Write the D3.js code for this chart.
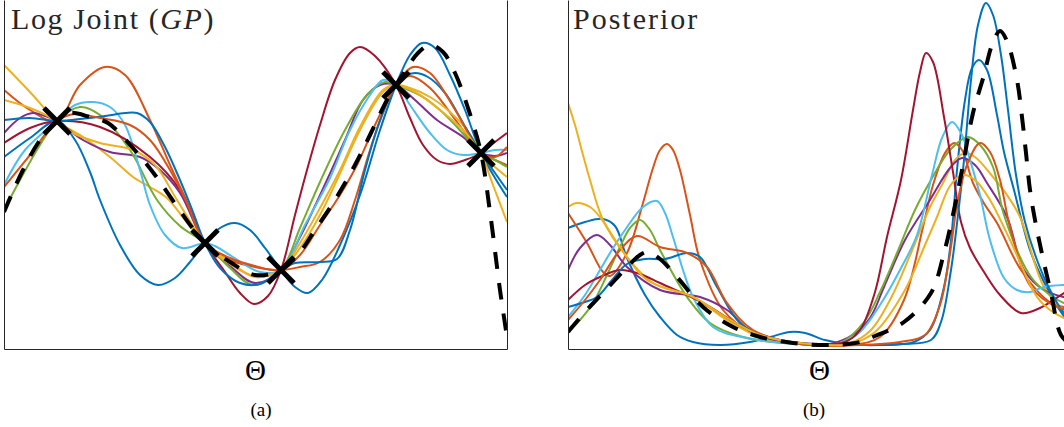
<!DOCTYPE html>
<html><head><meta charset="utf-8">
<script src="https://cdn.jsdelivr.net/npm/d3@7"></script>
<style>html,body{margin:0;padding:0;background:#fff;}svg{display:block;}</style>
</head><body>
<svg id="chart" width="1064" height="427"></svg>
<script>
// ---------------- DATA ----------------
const seriesColors = ["#0072BD","#D95319","#EDB120","#7E2F8E","#77AC30","#4DBEEE","#A2142F","#0072BD","#D95319","#EDB120"];
const panelTitles = ["Log Joint (", "GP", ")"];
const panelTitleB = "Posterior";
const xLabel = "Θ";
const captions = ["(a)", "(b)"];

// observed points (X markers) in panel (a)
const observations = [[5.3,2.28],[20.1,1.06],[27.7,0.79],[39.2,2.64],[47.7,1.96]];

// panel (a): true log joint (dashed)
const truthA = [[0,1.37],[1.8,1.77],[3.6,2.09],[5.3,2.28],[6.6,2.36],[8.6,2.32],[10.4,2.26],[12.8,2.02],[15.1,1.74],[17.2,1.44],[20.1,1.06],[22.6,0.87],[25.1,0.74],[27.7,0.79],[29.6,0.97],[31.1,1.19],[33.1,1.49],[35.1,1.84],[36.6,2.14],[38.3,2.49],[39.2,2.64],[40.3,2.81],[41.4,2.96],[42.6,3.04],[43.9,2.97],[45.1,2.76],[46.4,2.41],[47.7,1.96],[48.6,1.37],[49.6,0.59],[50.3,0.12]];

// panel (a): GP samples
const gpBlue1 = [[0,1.92],[2.6,2.11],[5.3,2.28],[7.1,2.09],[8.6,1.77],[9.6,1.49],[11.6,1.04],[13.6,0.74],[15.4,0.64],[17.1,0.71],[18.6,0.87],[20.1,1.06],[21.6,1.21],[23.1,1.26],[24.6,1.19],[26.1,1.01],[27.7,0.79],[29.1,0.62],[30.4,0.56],[31.8,0.69],[33.6,1.04],[35.6,1.54],[37.6,2.19],[39.2,2.64],[40.6,2.94],[41.8,3.06],[43.1,3.01],[44.6,2.74],[46.1,2.39],[47.7,1.96],[49.1,1.71],[50.3,1.52]];
const gpOrange1 = [[0,2.59],[2.6,2.39],[5.3,2.28],[7.6,2.64],[10.1,2.82],[12.1,2.74],[14.6,2.29],[16.6,1.84],[18.3,1.47],[20.1,1.06],[22.6,0.89],[25.6,0.81],[27.7,0.79],[29.6,0.82],[31.6,0.87],[33.6,1.09],[35.1,1.49],[36.6,1.99],[38.1,2.41],[39.2,2.64],[40.6,2.73],[42.6,2.61],[45.3,2.27],[47.7,1.96],[49.1,1.89],[50.3,1.84]];
const gpYellow1 = [[0,2.84],[2.6,2.57],[5.3,2.28],[7.9,2.12],[10.6,1.92],[12.9,1.72],[14.6,1.62],[16.3,1.51],[18.1,1.29],[20.1,1.06],[22.6,0.87],[25.1,0.72],[27.7,0.79],[29.6,1.01],[31.6,1.34],[33.3,1.69],[35.6,2.19],[37.9,2.57],[39.2,2.64],[40.6,2.61],[42.6,2.52],[44.6,2.37],[46.3,2.19],[47.7,1.96],[48.9,1.64],[50.3,1.27]];
const gpPurple = [[0,2.16],[1.6,2.31],[2.9,2.36],[4.1,2.33],[5.3,2.28],[7.9,2.09],[10.6,1.97],[13.6,1.92],[15.6,1.79],[17.6,1.56],[20.1,1.06],[22.6,0.83],[25.1,0.66],[27.7,0.79],[29.6,1.12],[32.3,1.69],[34.1,2.09],[35.9,2.49],[37.6,2.64],[39.2,2.64],[41.1,2.49],[43.3,2.29],[45.9,2.12],[47.7,1.96],[49.1,1.93],[50.3,1.96]];
const gpGreen = [[0,1.39],[1.6,1.69],[3.6,2.04],[5.3,2.28],[7.6,2.42],[9.6,2.34],[12.6,1.99],[15.3,1.49],[17.6,1.23],[20.1,1.06],[22.6,0.81],[24.9,0.64],[27.7,0.79],[29.6,1.21],[31.6,1.67],[34.1,2.19],[36.3,2.54],[38.1,2.67],[39.2,2.64],[41.9,2.52],[43.6,2.39],[45.3,2.22],[47.7,1.96],[49.1,1.89],[50.3,1.82]];
const gpLightBlue = [[0,1.64],[2.1,1.99],[5.3,2.28],[7.1,2.44],[8.9,2.47],[10.6,2.42],[12.1,2.24],[13.6,1.79],[14.6,1.44],[16.1,1.14],[17.8,1.01],[20.1,1.06],[21.1,1.03],[22.9,0.92],[25.6,0.77],[27.7,0.79],[30.1,1.24],[32.6,1.71],[34.6,2.19],[36.6,2.54],[37.9,2.69],[39.2,2.64],[40.6,2.44],[42.6,2.16],[44.3,1.99],[45.9,1.94],[47.7,1.96],[49.1,1.99],[50.3,1.99]];
const gpDarkRed = [[0,2.06],[2.6,2.21],[5.3,2.28],[9.6,2.22],[14.6,1.92],[17.6,1.59],[20.1,1.06],[22.1,0.77],[23.6,0.56],[25.0,0.45],[26.4,0.53],[27.7,0.79],[29.1,1.34],[30.3,1.79],[31.6,2.24],[33.1,2.69],[34.6,2.96],[35.6,3.02],[37.1,2.93],[39.2,2.64],[40.6,2.31],[41.9,2.04],[43.3,1.89],[44.6,1.85],[46.1,1.89],[47.7,1.96],[49.1,2.07],[50.3,2.16]];
const gpBlue2 = [[0,2.29],[2.6,2.31],[5.3,2.28],[7.6,2.30],[10.1,2.33],[12.1,2.36],[13.3,2.36],[14.6,2.27],[16.1,2.02],[17.6,1.69],[18.9,1.37],[20.1,1.06],[21.6,0.81],[23.6,0.66],[25.6,0.65],[27.7,0.79],[29.1,0.86],[31.6,0.87],[33.3,0.90],[34.6,1.19],[36.1,1.79],[37.6,2.29],[39.2,2.64],[40.1,2.73],[41.1,2.76],[42.4,2.72],[44.1,2.56],[45.9,2.26],[47.7,1.96],[49.1,1.76],[50.3,1.59]];
const gpOrange2 = [[0,1.62],[2.6,1.94],[5.3,2.28],[7.1,2.35],[9.6,2.31],[12.6,2.24],[14.6,2.09],[16.6,1.79],[18.3,1.46],[20.1,1.06],[22.6,0.91],[25.1,0.83],[27.7,0.79],[29.6,0.94],[31.6,1.24],[33.6,1.54],[35.3,1.84],[37.1,2.24],[39.2,2.64],[40.9,2.82],[42.6,2.76],[45.3,2.36],[47.7,1.96],[49.1,1.92],[50.3,2.02]];
const gpYellow2 = [[0,2.49],[2.6,2.41],[5.3,2.28],[6.9,2.16],[9.6,2.06],[12.9,1.99],[15.1,1.84],[17.3,1.49],[20.1,1.06],[22.6,0.85],[25.1,0.73],[27.7,0.79],[29.6,1.06],[31.6,1.41],[33.6,1.79],[35.6,2.22],[37.9,2.59],[39.2,2.64],[41.1,2.57],[43.6,2.39],[46.1,2.17],[47.7,1.96],[49.1,1.82],[50.3,1.72]];

// panel (b): true posterior (dashed)
const truthB = [[0,0.17],[1.7,0.37],[3.2,0.53],[4.7,0.69],[5.9,0.82],[7.2,0.94],[8.0,0.97],[9.2,0.90],[10.9,0.72],[13.5,0.42],[16.5,0.22],[19.2,0.12],[22.5,0.06],[26.2,0.04],[29.2,0.07],[30.7,0.13],[33.6,0.27],[36.3,0.56],[37.6,0.96],[38.6,1.39],[39.4,1.79],[40.5,2.36],[41.6,2.74],[42.4,3.04],[43.2,3.18],[43.9,3.08],[44.9,2.69],[45.4,2.32],[45.8,1.96],[46.2,1.59],[46.7,1.29],[47.6,0.86],[48.3,0.56],[49.3,0.14],[50.3,0.04]];

// panel (b): posterior samples
const postBlue1 = [[0,1.21],[1.7,1.27],[3.5,1.30],[4.7,1.23],[5.9,0.91],[7.7,0.54],[9.2,0.32],[10.9,0.14],[12.5,0.07],[15.2,0.04],[18.2,0.07],[20.2,0.12],[22.2,0.17],[23.7,0.16],[25.7,0.09],[27.9,0.05],[31.2,0.04],[34.6,0.07],[36.2,0.19],[37.6,0.62],[38.3,1.09],[38.9,1.79],[39.7,2.49],[40.4,2.81],[41.1,2.89],[41.9,2.79],[42.9,2.34],[43.6,1.97],[44.6,1.59],[46.2,0.99],[47.6,0.67],[49.6,0.33],[50.3,0.27]];
const postOrange1 = [[0,1.36],[1.9,1.06],[3.5,0.77],[4.2,0.73],[5.9,0.96],[7.5,1.46],[8.5,1.81],[9.2,1.99],[9.9,2.05],[10.5,1.99],[11.2,1.79],[12.2,1.34],[13.2,0.89],[15.5,0.39],[18.5,0.16],[23.2,0.05],[28.2,0.04],[31.2,0.12],[33.6,0.49],[35.5,1.22],[36.5,1.64],[37.7,1.96],[38.6,2.06],[39.4,1.99],[40.5,1.66],[41.7,1.44],[42.9,1.26],[45.3,0.79],[48.3,0.46],[49.6,0.42],[50.3,0.41]];
const postYellow1 = [[0,2.46],[0.7,2.24],[1.5,1.94],[2.2,1.69],[3.5,1.29],[5.9,0.92],[8.5,0.66],[12.5,0.52],[15.9,0.29],[19.2,0.12],[23.2,0.05],[28.2,0.06],[30.3,0.19],[32.2,0.49],[34.3,0.96],[36.2,1.42],[37.5,1.66],[38.7,1.89],[39.7,1.96],[40.7,1.92],[42.5,1.72],[43.9,1.54],[45.2,1.32],[47.6,0.62],[49.6,0.39],[50.3,0.36]];
const postPurple = [[0,0.79],[1.2,1.01],[2.9,1.14],[4.2,1.04],[5.9,0.82],[9.2,0.59],[13.2,0.52],[15.9,0.39],[18.5,0.16],[23.2,0.05],[26.2,0.05],[28.6,0.15],[30.2,0.31],[31.6,0.62],[33.7,1.09],[36.2,1.49],[38.2,1.81],[39.4,1.91],[40.7,1.84],[41.9,1.66],[43.9,1.32],[45.6,0.79],[47.6,0.59],[49.6,0.52],[50.3,0.51]];
const postGreen = [[0,0.17],[1.2,0.29],[2.5,0.46],[3.9,0.74],[5.2,1.02],[6.2,1.21],[7.2,1.29],[8.2,1.19],[9.2,0.99],[11.9,0.52],[14.2,0.26],[17.5,0.12],[23.2,0.05],[27.2,0.06],[29.6,0.27],[31.2,0.57],[32.9,0.96],[34.7,1.39],[36.3,1.69],[38.2,1.99],[40.0,2.12],[41.2,2.04],[42.5,1.82],[43.6,1.34],[46.3,0.72],[48.2,0.54],[49.6,0.46],[50.3,0.44]];
const postLightBlue = [[0,0.32],[1.7,0.54],[3.2,0.79],[4.2,0.96],[5.7,1.19],[7.5,1.42],[8.9,1.48],[9.7,1.36],[10.5,1.12],[11.5,0.79],[12.5,0.52],[14.5,0.22],[17.9,0.11],[23.2,0.05],[27.2,0.06],[29.2,0.17],[31.2,0.44],[33.2,0.79],[34.9,1.14],[36.4,1.74],[37.4,2.11],[38.4,2.27],[39.4,2.14],[40.2,1.89],[41.2,1.54],[42.2,1.09],[43.6,0.71],[44.9,0.59],[46.2,0.57],[47.6,0.62],[49.6,0.64],[50.3,0.64]];
const postDarkRed = [[0,0.49],[1.7,0.64],[3.2,0.72],[5.2,0.79],[7.2,0.75],[9.2,0.66],[13.5,0.46],[17.5,0.22],[21.2,0.09],[25.2,0.05],[27.7,0.07],[29.2,0.19],[30.7,0.57],[31.9,1.12],[33.3,1.69],[34.5,2.39],[35.2,2.77],[35.8,2.96],[36.5,2.87],[37.6,2.32],[38.5,1.77],[39.3,1.27],[40.2,1.01],[41.6,0.77],[43.2,0.54],[45.3,0.36],[47.2,0.41],[49.6,0.56],[50.3,0.60]];
const postBlue2 = [[0,0.42],[1.7,0.47],[2.9,0.52],[4.4,0.69],[5.9,0.85],[7.7,0.90],[9.7,0.90],[11.9,0.96],[13.2,0.92],[14.9,0.62],[17.2,0.26],[19.9,0.12],[23.2,0.06],[28.2,0.04],[33.2,0.05],[36.3,0.09],[37.3,0.27],[38.3,0.79],[39.0,1.34],[39.6,1.89],[40.3,2.69],[41.0,3.24],[41.8,3.46],[42.5,3.34],[43.3,2.94],[44.0,2.39],[44.8,1.74],[45.7,1.27],[46.9,0.89],[48.2,0.59],[49.6,0.36],[50.3,0.30]];
const postOrange2 = [[0,0.29],[1.7,0.49],[3.2,0.69],[5.2,0.99],[6.9,1.13],[9.2,1.02],[11.9,0.96],[13.9,0.82],[15.9,0.46],[18.5,0.19],[23.2,0.05],[29.2,0.04],[33.2,0.07],[35.7,0.14],[37.2,0.44],[37.9,0.77],[38.4,1.09],[38.9,1.44],[39.9,1.84],[41.2,2.06],[42.2,1.97],[43.2,1.69],[44.2,1.22],[46.3,0.62],[48.9,0.42],[50.3,0.39]];
const postYellow2 = [[0,1.42],[0.9,1.46],[2.2,1.42],[3.2,1.32],[5.2,1.02],[7.9,0.69],[12.5,0.52],[15.9,0.31],[19.2,0.14],[23.2,0.06],[28.2,0.05],[30.7,0.17],[33.7,0.59],[35.7,1.04],[36.9,1.32],[38.2,1.63],[39.4,1.74],[40.7,1.69],[42.2,1.49],[44.2,1.09],[46.9,0.52],[48.2,0.39],[49.6,0.31],[50.3,0.29]];

const samplesA = [gpBlue1, gpOrange1, gpYellow1, gpPurple, gpGreen, gpLightBlue, gpDarkRed, gpBlue2, gpOrange2, gpYellow2];
const samplesB = [postBlue1, postOrange1, postYellow1, postPurple, postGreen, postLightBlue, postDarkRed, postBlue2, postOrange2, postYellow2];

// ---------------- DRAWING ----------------
const svg = d3.select("#chart");
const ink = "#262626";
const serif = "'Liberation Serif','Times New Roman',serif";

const panels = [
  {x0: 4, x1: 507, samples: samplesA, truth: truthA, obs: observations, id: "a"},
  {x0: 568, x1: 1071, samples: samplesB, truth: truthB, obs: [], id: "b"}
];
const plotTop = 0, plotBottom = 349;

panels.forEach((p, i) => {
  const x = d3.scaleLinear().domain([0, 50.3]).range([p.x0, p.x1]);
  const y = d3.scaleLinear().domain([0, 3.49]).range([plotBottom, plotTop]);
  const g = svg.append("g");

  g.append("clipPath").attr("id", "clip" + p.id)
    .append("rect").attr("x", p.x0).attr("y", -5).attr("width", p.x1 - p.x0).attr("height", plotBottom + 5);

  const line = d3.line().x(d => x(d[0])).y(d => y(d[1])).curve(d3.curveCatmullRom.alpha(0.5));
  const plot = g.append("g").attr("clip-path", `url(#clip${p.id})`);

  plot.selectAll("path.sample").data(p.samples).join("path")
    .attr("class", "sample")
    .attr("d", line)
    .attr("fill", "none")
    .attr("stroke", (d, k) => seriesColors[k])
    .attr("stroke-width", 2)
    .attr("stroke-linejoin", "round");

  plot.append("path").datum(p.truth)
    .attr("d", line)
    .attr("fill", "none")
    .attr("stroke", "#000")
    .attr("stroke-width", 4)
    .attr("stroke-dasharray", "17,14");

  const s = 13;
  plot.selectAll("path.obs").data(p.obs).join("path")
    .attr("class", "obs")
    .attr("d", d => {
      const cx = x(d[0]), cy = y(d[1]);
      return `M${cx - s},${cy - s}L${cx + s},${cy + s}M${cx - s},${cy + s}L${cx + s},${cy - s}`;
    })
    .attr("stroke", "#000")
    .attr("stroke-width", 5);

  // axes (box without ticks)
  g.append("g").attr("transform", `translate(0,${plotBottom})`)
    .call(d3.axisBottom(x).tickValues([]).tickSizeOuter(0));
  g.append("g").attr("transform", `translate(${p.x0},0)`)
    .call(d3.axisLeft(y).tickValues([]).tickSizeOuter(0));
  g.append("g").attr("transform", `translate(${p.x1},0)`)
    .call(d3.axisRight(y).tickValues([]).tickSizeOuter(0));
  g.selectAll(".domain").attr("stroke", ink).attr("stroke-width", 1);

  // x label
  g.append("text")
    .attr("x", (p.x0 + p.x1) / 2)
    .attr("y", 380)
    .attr("text-anchor", "middle")
    .attr("font-family", serif)
    .attr("font-size", 29)
    .attr("fill", "#000")
    .text(xLabel);
});

// titles
const t1 = svg.append("text").attr("x", 11).attr("y", 29)
  .attr("font-family", serif).attr("font-size", 30).attr("fill", ink)
  .attr("letter-spacing", 1.6);
t1.append("tspan").text(panelTitles[0]);
t1.append("tspan").attr("font-style", "italic").text(panelTitles[1]);
t1.append("tspan").text(panelTitles[2]);

svg.append("text").attr("x", 573).attr("y", 29)
  .attr("font-family", serif).attr("font-size", 30).attr("fill", ink)
  .attr("letter-spacing", 2)
  .text(panelTitleB);

// captions
svg.append("text").attr("x", 261).attr("y", 416).attr("text-anchor", "middle")
  .attr("font-family", serif).attr("font-size", 19).attr("fill", "#000").text(captions[0]);
svg.append("text").attr("x", 814).attr("y", 416).attr("text-anchor", "middle")
  .attr("font-family", serif).attr("font-size", 19).attr("fill", "#000").text(captions[1]);
</script>
</body></html>
